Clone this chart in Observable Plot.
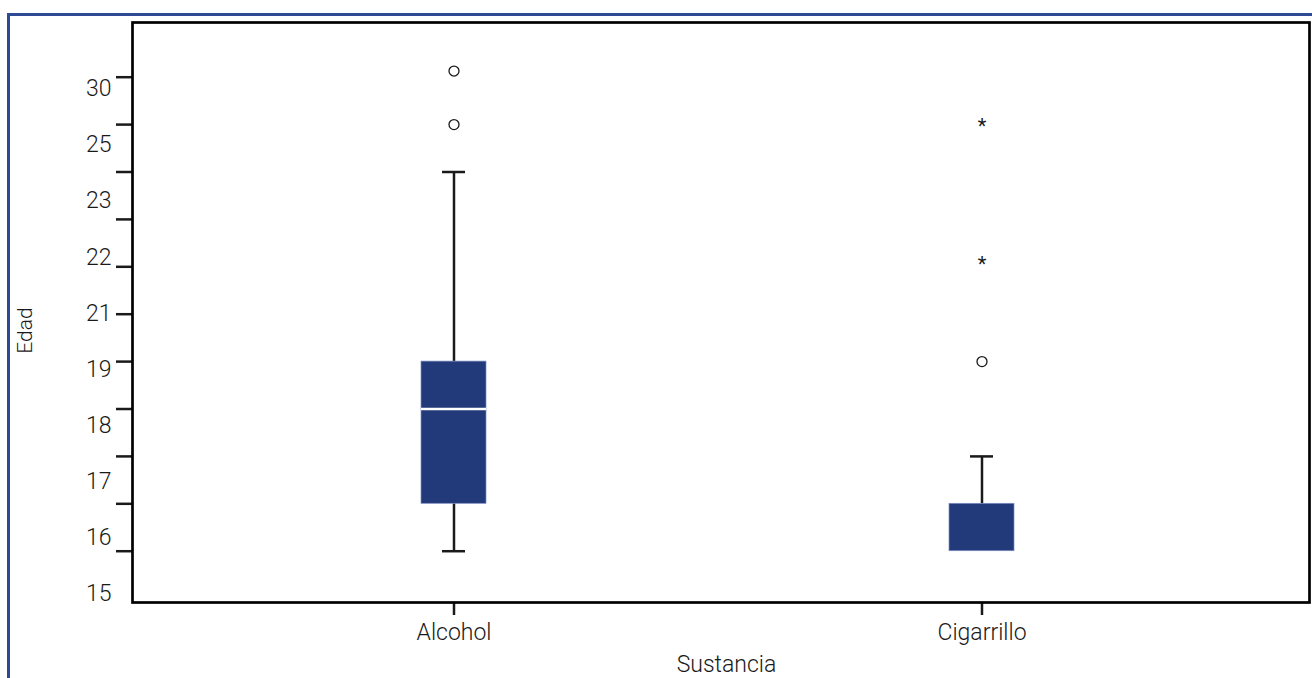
<!DOCTYPE html>
<html>
<head>
<meta charset="utf-8">
<script src="https://cdn.jsdelivr.net/npm/d3@7"></script>
<script src="https://cdn.jsdelivr.net/npm/@observablehq/plot@0.6"></script>
<style>
  html, body { margin: 0; padding: 0; background: #fff; }
  #wrap { position: relative; width: 1312px; height: 678px; overflow: hidden; }
  #borde { position: absolute; left: 7px; top: 13px; right: -5px; bottom: -5px;
           border-top: 3px solid #2f4a94; border-left: 3px solid #2f4a94; }
  #chart { position: absolute; left: 0; top: 0; }
</style>
</head>
<body>
<div id="wrap"><div id="borde"></div><div id="chart"></div></div>
<script>
// ---- data ----
const sustancias = ["Alcohol", "Cigarrillo"];
const minimo  = [15, 15];
const q1      = [16, 15];
const mediana = [18, 15];
const q3      = [19, 16];
const maximo  = [23, 17];
// atípicos (círculos)
const atipicosSustancia = ["Alcohol", "Alcohol", "Cigarrillo"];
const atipicosEdad      = [25, 30, 19];
// extremos (asteriscos)
const extremosSustancia = ["Cigarrillo", "Cigarrillo"];
const extremosEdad      = [22, 25];
// etiquetas del eje Y tal como aparecen
const etiquetasY = [15, 16, 17, 18, 19, 21, 22, 23, 25, 30];
// posición de cada edad sobre las marcas del eje (eje no lineal del original)
const edadNivel  = [15, 16, 17, 18, 19, 22, 23, 25, 30];
const rangoNivel = [0, 1, 2, 3, 4, 6.08, 8, 9, 10.13];
const marcasY = d3.range(0, 11);

const nivel = d3.scaleLinear().domain(edadNivel).range(rangoNivel);

const cajas = sustancias.map((s, i) => ({
  s, min: nivel(minimo[i]), q1: nivel(q1[i]), med: nivel(mediana[i]),
  q3: nivel(q3[i]), max: nivel(maximo[i]),
  medVisible: mediana[i] !== q1[i] && mediana[i] !== q3[i]
}));
const atipicos = atipicosSustancia.map((s, i) => ({s, y: nivel(atipicosEdad[i])}));
const extremos = extremosSustancia.map((s, i) => ({s, y: nivel(extremosEdad[i])}));
const etiquetas = etiquetasY.map((v, k) => ({v, y: (550.7 - (593 - k * 56.06)) / 47.4}));

const ink = "#1a1a1a";
const boxFill = "#233a7a";

const chart = Plot.plot({
  width: 1312,
  height: 678,
  marginTop: 22,
  marginBottom: 76,
  marginLeft: 132,
  marginRight: 3,
  style: {fontFamily: "Roboto, 'Open Sans', sans-serif", fontWeight: 300, color: ink, background: "transparent"},
  x: {type: "band", domain: sustancias, paddingInner: 0.876, paddingOuter: 0.552, align: 0.496, label: null},
  y: {type: "linear", domain: [-1.082, 11.154], label: null},
  marks: [
    // whiskers
    Plot.ruleX(cajas, {x: "s", y1: "q3", y2: "max", stroke: ink, strokeWidth: 2.5}),
    Plot.ruleX(cajas.filter(d => d.min < d.q1), {x: "s", y1: "min", y2: "q1", stroke: ink, strokeWidth: 2.5}),
    Plot.tickY(cajas, {x: "s", y: "max", stroke: ink, strokeWidth: 2.5, insetLeft: 21, insetRight: 21}),
    Plot.tickY(cajas.filter(d => d.min < d.q1), {x: "s", y: "min", stroke: ink, strokeWidth: 2.5, insetLeft: 21, insetRight: 21}),
    // boxes
    Plot.barY(cajas, {x: "s", y1: "q1", y2: "q3", fill: boxFill, stroke: "#7d8dc2", strokeWidth: 0.7}),
    Plot.tickY(cajas.filter(d => d.medVisible), {x: "s", y: "med", stroke: "white", strokeWidth: 2.5}),
    // outliers
    Plot.dot(atipicos, {x: "s", y: "y", r: 5, stroke: ink, strokeWidth: 1.3, fill: "none"}),
    Plot.text(extremos, {x: "s", y: "y", text: () => "*", fontSize: 20, fontWeight: 400, fill: ink, dy: 2}),
    // axes
    Plot.axisY({ticks: marcasY, tickSize: 16, tickFormat: () => "", strokeWidth: 2.5, stroke: ink, label: null}),
    Plot.text(etiquetas, {y: "y", text: d => String(d.v), frameAnchor: "left", textAnchor: "end", lineAnchor: "middle", dx: -21, fontSize: 23, fill: ink}),
    Plot.axisX({tickSize: 13, tickPadding: 8, fontSize: 23, strokeWidth: 2.5, stroke: ink, fill: ink, label: null}),
    Plot.text(["Sustancia"], {frameAnchor: "bottom", lineAnchor: "middle", textAnchor: "middle", text: d => d, dy: 62.6, dx: 5.5, fontSize: 23, fill: ink}),
    Plot.text(["Edad"], {frameAnchor: "left", lineAnchor: "middle", textAnchor: "middle", text: d => d, rotate: -90, dx: -107.5, dy: 18, fontSize: 21, fill: ink}),
    Plot.frame({stroke: "black", strokeWidth: 2.7})
  ]
});
document.getElementById("chart").appendChild(chart);
</script>
</body>
</html>
